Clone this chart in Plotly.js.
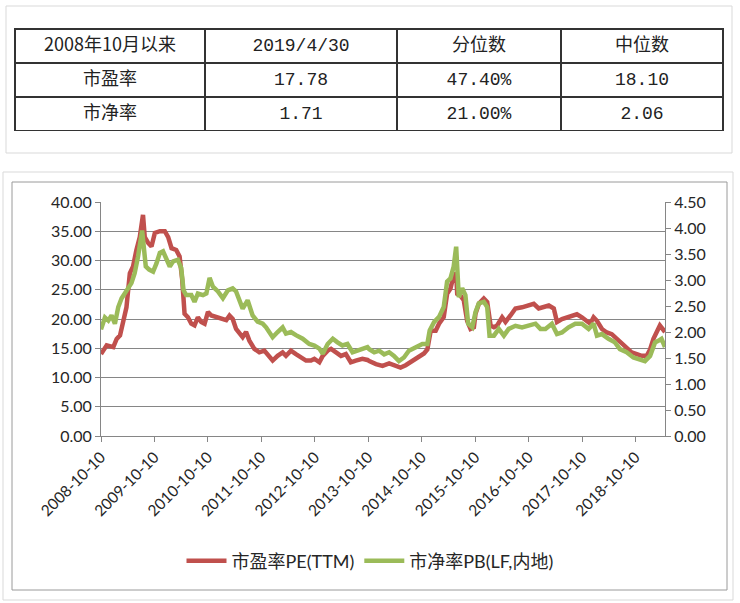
<!DOCTYPE html>
<html>
<head>
<meta charset="utf-8">
<script src="https://cdn.plot.ly/plotly-3.0.1.min.js"></script>
<style>
  html, body { margin: 0; padding: 0; background: #fff; }
  #chart { width: 740px; height: 603px; }
</style>
</head>
<body>
<div id="chart"></div>
<script>
// summary table
const tableHeader = ["2008年10月以来", "2019/4/30", "分位数", "中位数"];
const rowNames = ["市盈率", "市净率"];
const latestValues = ["17.78", "1.71"];
const percentiles = ["47.40%", "21.00%"];
const medians = ["18.10", "2.06"];

// PE (TTM), left axis
const peDates = [
  "2008-10-10","2008-11-18","2009-01-02","2009-01-25","2009-02-17","2009-03-10","2009-04-02","2009-04-25",
  "2009-05-17","2009-06-09","2009-07-02","2009-07-24","2009-08-05","2009-08-28","2009-09-20","2009-10-13",
  "2009-11-16","2009-12-20","2010-01-12","2010-02-04","2010-03-08","2010-03-31","2010-04-18","2010-05-04",
  "2010-05-27","2010-06-19","2010-07-11","2010-08-03","2010-08-26","2010-09-18","2010-10-11","2010-11-03",
  "2010-12-07","2011-01-10","2011-02-13","2011-03-07","2011-03-29","2011-04-21","2011-05-14","2011-06-05",
  "2011-06-28","2011-07-21","2011-08-24","2011-09-27","2011-10-31","2011-12-04","2011-12-27","2012-01-30",
  "2012-03-04","2012-03-27","2012-04-30","2012-06-03","2012-07-07","2012-08-11","2012-09-14","2012-10-07",
  "2012-11-10","2012-12-03","2013-01-06","2013-01-29","2013-03-04","2013-04-07","2013-05-10","2013-06-13",
  "2013-07-17","2013-08-31","2013-10-05","2013-10-17","2013-12-02","2014-01-16","2014-03-02","2014-04-16",
  "2014-05-19","2014-06-23","2014-08-07","2014-09-22","2014-10-26","2014-11-18","2014-12-11","2015-01-14",
  "2015-02-06","2015-03-10","2015-04-02","2015-04-25","2015-05-17","2015-06-03","2015-06-10","2015-07-02",
  "2015-07-25","2015-08-17","2015-09-09","2015-10-02","2015-10-13","2015-11-05","2015-12-09","2016-01-01",
  "2016-01-24","2016-02-16","2016-03-09","2016-04-12","2016-05-05","2016-06-08","2016-07-12","2016-08-26",
  "2016-10-11","2016-11-14","2016-12-18","2017-01-22","2017-02-25","2017-03-31","2017-04-22","2017-05-26",
  "2017-06-29","2017-08-02","2017-09-05","2017-10-09","2017-11-12","2017-12-05","2017-12-28","2018-01-20",
  "2018-02-23","2018-03-28","2018-05-01","2018-06-04","2018-07-08","2018-08-11","2018-09-14","2018-10-19",
  "2018-11-22","2018-12-26","2019-01-18","2019-02-10","2019-03-04","2019-03-26","2019-04-30"
];
const peValues = [
  14.0,15.5,15.2,16.6,17.2,19.2,22.0,27.8,
  29.0,31.8,34.0,37.8,34.0,33.0,32.4,34.7,
  35.0,35.0,34.0,32.1,31.8,30.7,26.7,20.9,
  20.3,19.2,18.9,20.3,19.5,19.2,21.2,20.6,
  20.3,20.0,19.8,20.6,20.0,18.3,17.5,16.9,
  17.8,16.3,14.9,14.3,14.6,13.4,12.9,13.7,
  14.3,13.7,14.6,14.0,13.4,12.9,12.9,13.2,
  12.6,13.7,14.6,14.9,14.3,13.7,14.0,12.6,
  12.9,13.2,13.0,12.8,12.3,12.0,12.4,12.0,
  11.7,12.1,12.8,13.7,14.1,14.8,18.0,18.0,
  19.2,20.3,24.3,25.2,27.5,27.8,24.3,24.0,
  23.2,19.7,18.3,18.6,20.9,22.6,23.5,22.9,
  18.9,18.6,18.9,20.3,19.5,20.6,21.8,22.0,
  22.3,22.6,21.8,22.0,22.3,21.8,19.5,20.0,
  20.3,20.6,20.8,20.3,19.7,19.2,20.3,19.7,
  18.3,17.7,17.4,16.6,15.7,15.1,14.3,14.0,
  13.7,13.7,14.8,16.6,18.0,18.9,17.78
];

// PB (LF), right axis
const pbDates = [
  "2008-10-10","2008-11-06","2008-11-29","2008-12-21","2009-01-13","2009-02-05","2009-02-28","2009-03-21",
  "2009-04-13","2009-05-06","2009-05-28","2009-06-20","2009-07-18","2009-07-26","2009-08-12","2009-09-04",
  "2009-10-01","2009-10-24","2009-11-16","2009-12-08","2009-12-31","2010-01-23","2010-02-15","2010-03-19",
  "2010-04-11","2010-04-27","2010-05-15","2010-06-19","2010-07-11","2010-08-03","2010-09-07","2010-09-30",
  "2010-10-22","2010-11-14","2010-12-18","2011-01-21","2011-02-24","2011-03-29","2011-04-21","2011-05-14",
  "2011-06-05","2011-07-09","2011-08-12","2011-09-15","2011-10-20","2011-11-12","2011-12-27","2012-01-30",
  "2012-03-04","2012-03-27","2012-04-30","2012-06-03","2012-07-19","2012-09-02","2012-10-07","2012-11-10",
  "2012-12-03","2013-01-06","2013-02-10","2013-03-14","2013-04-17","2013-05-21","2013-06-25","2013-07-28",
  "2013-08-31","2013-10-05","2013-10-17","2013-11-20","2013-12-24","2014-01-27","2014-03-02","2014-04-04",
  "2014-05-08","2014-06-11","2014-07-15","2014-08-30","2014-10-15","2014-11-18","2014-12-04","2015-01-03",
  "2015-02-06","2015-03-10","2015-04-02","2015-04-25","2015-05-17","2015-06-03","2015-06-10","2015-06-21",
  "2015-07-14","2015-08-05","2015-08-24","2015-09-21","2015-10-13","2015-11-05","2015-12-09","2016-01-01",
  "2016-01-17","2016-02-16","2016-03-20","2016-04-24","2016-05-27","2016-07-12","2016-08-26","2016-10-11",
  "2016-11-26","2016-12-30","2017-02-02","2017-03-18","2017-04-22","2017-05-26","2017-07-10","2017-08-25",
  "2017-10-09","2017-11-24","2017-12-28","2018-01-20","2018-02-23","2018-04-09","2018-05-23","2018-06-26",
  "2018-08-11","2018-09-26","2018-11-10","2018-12-14","2019-01-18","2019-02-21","2019-03-15","2019-04-06",
  "2019-04-30"
];
const pbValues = [
  2.05,2.28,2.22,2.32,2.16,2.48,2.65,2.74,
  2.84,2.94,3.13,3.45,3.95,3.70,3.26,3.20,
  3.16,3.32,3.52,3.55,3.42,3.26,3.36,3.39,
  3.23,2.80,2.71,2.71,2.58,2.74,2.71,2.74,
  3.04,2.87,2.78,2.65,2.80,2.84,2.78,2.58,
  2.45,2.61,2.32,2.20,2.16,2.09,1.90,2.00,
  2.09,1.97,2.00,1.94,1.87,1.77,1.74,1.68,
  1.58,1.77,1.87,1.80,1.74,1.77,1.61,1.64,
  1.68,1.71,1.67,1.61,1.64,1.57,1.61,1.54,
  1.44,1.51,1.64,1.70,1.77,1.77,2.03,2.19,
  2.29,2.48,2.97,3.03,3.26,3.64,3.06,2.67,
  2.84,2.71,2.16,2.09,2.38,2.55,2.58,2.48,
  1.93,1.93,2.06,1.93,2.06,2.12,2.09,2.12,
  2.16,2.06,2.06,2.16,1.96,1.99,2.09,2.16,
  2.16,2.06,2.16,1.93,1.96,1.87,1.80,1.67,
  1.61,1.51,1.48,1.44,1.54,1.80,1.83,1.87,
  1.71
];

const tickDates = ["2008-10-10","2009-10-10","2010-10-10","2011-10-10","2012-10-10","2013-10-10",
  "2014-10-10","2015-10-10","2016-10-10","2017-10-10","2018-10-10"];
const tickLabels = tickDates.slice();

const W = 740, H = 603;
const px = x => x / W;
const py = y => 1 - y / H;

const monoCjk = "Liberation Mono, Noto Sans CJK SC";
const cjk = "Noto Sans CJK SC";

const table = {
  type: "table",
  domain: { x: [px(15), px(723)], y: [py(131), py(29)] },
  columnwidth: [190, 192, 164, 162],
  header: {
    values: tableHeader,
    align: "center",
    height: 34,
    fill: { color: "#ffffff" },
    line: { color: "#333333", width: 2 },
    font: { family: [cjk, monoCjk, cjk, cjk], size: 18, color: "#222222" }
  },
  cells: {
    values: [rowNames, latestValues, percentiles, medians],
    align: "center",
    height: 34,
    fill: { color: "#ffffff" },
    line: { color: "#333333", width: 2 },
    font: { family: [cjk, monoCjk, monoCjk, monoCjk], size: 18, color: "#222222" }
  }
};

const pe = {
  x: peDates, y: peValues,
  type: "scatter", mode: "lines",
  name: "市盈率PE(TTM)",
  line: { color: "#C0504D", width: 4.5 },
  hoverinfo: "skip"
};

const pb = {
  x: pbDates, y: pbValues,
  type: "scatter", mode: "lines",
  name: "市净率PB(LF,内地)",
  yaxis: "y2",
  line: { color: "#9BBB59", width: 4.5 },
  hoverinfo: "skip"
};

const tickFont = { family: "Lato, Noto Sans CJK SC", size: 16, color: "#262626" };

const layout = {
  width: W, height: H,
  margin: { l: 0, r: 0, t: 0, b: 0 },
  paper_bgcolor: "#ffffff",
  plot_bgcolor: "#ffffff",
  showlegend: true,
  legend: {
    orientation: "h", x: 0.5, xanchor: "center", y: py(561), yanchor: "middle",
    font: { family: "Lato, Noto Sans CJK SC", size: 18, color: "#262626" },
    itemwidth: 40
  },
  xaxis: {
    domain: [px(101), px(665)],
    anchor: "y",
    type: "date",
    range: ["2008-10-10", "2019-04-30"],
    tickmode: "array", tickvals: tickDates, ticktext: tickLabels,
    tickangle: -45,
    ticks: "outside", ticklen: 5, tickcolor: "#868686",
    showgrid: false, zeroline: false,
    showline: true, linecolor: "#868686", linewidth: 1,
    tickfont: { family: "Lato", size: 15.5, color: "#262626" }
  },
  yaxis: {
    domain: [py(436), py(202)],
    range: [0, 40], dtick: 5, tickformat: ".2f",
    ticks: "outside", ticklen: 5, tickcolor: "#868686",
    showgrid: true, gridcolor: "#868686", gridwidth: 1,
    zeroline: false,
    showline: true, linecolor: "#868686", linewidth: 1,
    tickfont: tickFont
  },
  yaxis2: {
    overlaying: "y", side: "right", anchor: "x",
    range: [0, 4.5], dtick: 0.5, tickformat: ".2f",
    ticks: "outside", ticklen: 5, tickcolor: "#868686",
    showgrid: false, zeroline: false,
    showline: true, linecolor: "#868686", linewidth: 1,
    tickfont: tickFont
  },
  shapes: [
    { type: "rect", xref: "paper", yref: "paper", x0: px(6), x1: px(732), y0: py(153), y1: py(6),
      line: { color: "#d9d9d9", width: 1 }, layer: "below" },
    { type: "rect", xref: "paper", yref: "paper", x0: px(3), x1: px(733), y0: py(600), y1: py(172),
      line: { color: "#d9d9d9", width: 1 }, layer: "below" },
    { type: "rect", xref: "paper", yref: "paper", x0: px(12), x1: px(727), y0: py(590), y1: py(182),
      line: { color: "#9a9a9a", width: 1 }, layer: "below" }
  ]
};

Plotly.newPlot("chart", [table, pe, pb], layout, { displayModeBar: false, staticPlot: true });
</script>
</body>
</html>
